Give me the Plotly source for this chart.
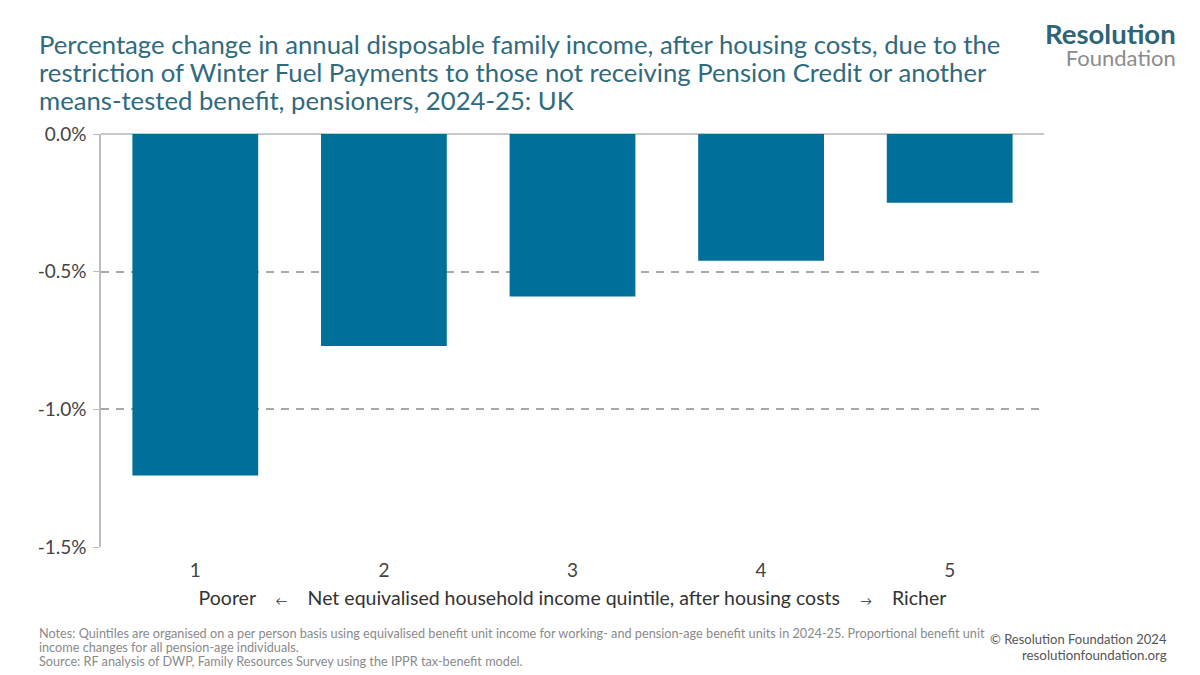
import plotly.graph_objects as go

# quintile labels and percentage change (AHC)
quintiles = ["1", "2", "3", "4", "5"]
pct_change = [-1.24, -0.77, -0.59, -0.46, -0.25]
y_ticks = [0.0, -0.5, -1.0, -1.5]
y_tick_labels = ["0.0%", "-0.5%", "-1.0%", "-1.5%"]

TITLE_LINES = ["Percentage change in annual disposable family income, after housing costs, due to the",
               "restriction of Winter Fuel Payments to those not receiving Pension Credit or another",
               "means-tested benefit, pensioners, 2024-25: UK"]
NOTE_LINES = ["Notes: Quintiles are organised on a per person basis using equivalised benefit unit income for working- and pension-age benefit units in 2024-25. Proportional benefit unit",
              "income changes for all pension-age individuals.",
              "Source: RF analysis of DWP, Family Resources Survey using the IPPR tax-benefit model."]

FONT = "Lato"
BAR_COL = "#006F99"
TITLE_COL = "#2F6A7E"

# plot area in pixels: left 101, right 1044, top 134, bottom 547
PL, PR, PT, PB = 101, 1044, 134, 547
def px_x(x):
    return (x - PL) / (PR - PL)
def px_y(y):
    return (PB - y) / (PB - PT)

fig = go.Figure()
fig.add_trace(go.Bar(x=quintiles, y=pct_change, marker_color=BAR_COL,
                     marker_line_width=0, width=0.667, hoverinfo="x+y"))

fig.update_layout(
    width=1200, height=675,
    paper_bgcolor="white", plot_bgcolor="white",
    margin=dict(l=PL, r=1200 - PR, t=PT, b=675 - PB, autoexpand=False),
    showlegend=False,
    font=dict(family=FONT, size=18, color="#444444"),
)

fig.update_yaxes(
    range=[-1.5, 0], tickvals=y_ticks, ticktext=y_tick_labels,
    showgrid=True, gridcolor="#A8A8A8", griddash="8px,7px", gridwidth=1.5,
    zeroline=True, zerolinecolor="#C8C8C8", zerolinewidth=2,
    showline=True, linecolor="#BDBDBD", linewidth=1.5,
    ticks="outside", ticklen=6, tickcolor="#BDBDBD",
    tickfont=dict(size=19, color="#444444"), ticklabelstandoff=3,
)
fig.update_xaxes(
    showgrid=False, showline=False, ticks="",
    tickfont=dict(size=19, color="#444444"), ticklabelstandoff=10,
    title=dict(text="Poorer    <span style='font-size:12px'>←</span>    Net equivalised household income quintile, after housing costs    "
                    "<span style='font-size:12px'>→</span>    Richer",
               font=dict(size=19.5, color="#333333"), standoff=11),
)

for i, line in enumerate(TITLE_LINES):
    fig.add_annotation(text=line, xref="paper", yref="paper", x=px_x(37), y=px_y(44 + 28 * i),
                       xanchor="left", yanchor="middle", showarrow=False, align="left",
                       font=dict(family=FONT, size=25.7, color=TITLE_COL))

for i, line in enumerate(NOTE_LINES):
    fig.add_annotation(text=line, xref="paper", yref="paper", x=px_x(37), y=px_y(633 + 14 * i),
                       xanchor="left", yanchor="middle", showarrow=False, align="left",
                       font=dict(family=FONT, size=12.7, color="#8A8A8A"))

fig.add_annotation(text="© Resolution Foundation 2024", xref="paper", yref="paper",
                   x=px_x(1169), y=px_y(639), xanchor="right", yanchor="middle",
                   showarrow=False, font=dict(family=FONT, size=13, color="#555555"))
fig.add_annotation(text="resolutionfoundation.org", xref="paper", yref="paper",
                   x=px_x(1169), y=px_y(655), xanchor="right", yanchor="middle",
                   showarrow=False, font=dict(family=FONT, size=13.3, color="#555555"))

# logo: one two-line block, small base size keeps the lines tight
fig.add_annotation(text="<span style='font-size:27.5px;color:#2C6478'><b>Resolution</b></span><br>"
                        "<span style='font-size:22px;color:#8C8C8C'>Foundation</span>",
                   xref="paper", yref="paper", x=px_x(1178), y=px_y(44),
                   xanchor="right", yanchor="middle", align="right", showarrow=False,
                   font=dict(family=FONT, size=17, color="#8C8C8C"))

# drop the page's default body margin so the figure sits at the window's corner
fig.write_html("out.html", config={"displayModeBar": False},
               post_script="document.body.style.margin='0';")
